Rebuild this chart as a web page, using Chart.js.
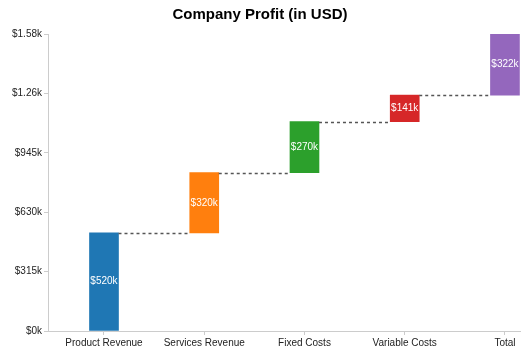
<!DOCTYPE html>
<html><head><meta charset="utf-8">
<script src="https://cdn.jsdelivr.net/npm/chart.js@4/dist/chart.umd.min.js"></script>
<style>html,body{margin:0;padding:0;background:#fff}#wrap{width:532px;height:355px}</style>
</head><body><div id="wrap"><canvas id="c" width="532" height="355"></canvas></div>
<script>
const categories = ["Product Revenue", "Services Revenue", "Fixed Costs", "Variable Costs", "Total"];
const amounts = [520, 320, 270, 141, 322];
const barLabels = ["$520k", "$320k", "$270k", "$141k", "$322k"];
const barColors = ["#1f77b4", "#ff7f0e", "#2ca02c", "#d62728", "#9467bd"];
const yTickValues = [0, 315, 630, 945, 1260, 1575];
const yTickLabels = ["$0k", "$315k", "$630k", "$945k", "$1.26k", "$1.58k"];

const FONT = "'Liberation Sans', Arial, sans-serif";
let run = 0;
const ranges = amounts.map(v => { const r = [run, run + v]; run += v; return r; });
const points = ranges.map((r, i) => ({x: i, y: r}));

const connectorPlugin = {
  id: 'connectors',
  afterDatasetsDraw(chart) {
    const ctx = chart.ctx;
    const meta = chart.getDatasetMeta(0);
    const ys = chart.scales.y;
    ctx.save();
    ctx.strokeStyle = '#555';
    ctx.lineWidth = 1.5;
    ctx.setLineDash([3, 3]);
    for (let i = 0; i < meta.data.length - 1; i++) {
      const a = meta.data[i], b = meta.data[i + 1];
      const y = Math.round(ys.getPixelForValue(ranges[i][1])) + 0.5;
      ctx.beginPath();
      ctx.moveTo(a.x + a.width / 2, y);
      ctx.lineTo(b.x - b.width / 2, y);
      ctx.stroke();
    }
    ctx.setLineDash([]);
    ctx.fillStyle = '#fff';
    ctx.font = '10px ' + FONT;
    ctx.textAlign = 'center';
    ctx.textBaseline = 'middle';
    meta.data.forEach((el, i) => {
      const yc = (el.y + el.base) / 2;
      ctx.fillText(barLabels[i], el.x, yc);
    });
    ctx.restore();
  }
};

new Chart(document.getElementById('c'), {
  type: 'bar',
  data: {
    datasets: [{
      data: points,
      backgroundColor: barColors,
      borderWidth: 0,
      barThickness: 29,
      borderSkipped: false
    }]
  },
  options: {
    responsive: false,
    animation: false,
    devicePixelRatio: 1,
    parsing: {xAxisKey: 'x', yAxisKey: 'y'},
    layout: {padding: {left: 0, right: 12, top: 0, bottom: 0}},
    plugins: {
      legend: {display: false},
      tooltip: {enabled: false},
      title: {
        display: true,
        text: 'Company Profit (in USD)',
        color: '#000',
        font: {family: FONT, size: 15, weight: 'bold'},
        padding: {top: 6, bottom: 10}
      }
    },
    scales: {
      x: {
        type: 'linear',
        offset: false,
        min: -0.5586,
        max: 4.15,
        afterBuildTicks: s => { s.ticks = categories.map((c, i) => ({value: i})); },
        afterFit: s => { s.height = 24; },
        grid: {display: true, offset: false, drawOnChartArea: false, drawTicks: true, tickLength: 4, color: '#ccc'},
        border: {display: true, color: '#ccc', width: 1},
        ticks: {
          callback: (v) => categories[v],
          color: '#222',
          font: {family: FONT, size: 10},
          padding: 2,
          maxRotation: 0,
          autoSkip: false
        }
      },
      y: {
        type: 'linear',
        min: 0,
        max: 1575,
        afterBuildTicks: s => { s.ticks = yTickValues.map(v => ({value: v})); },
        afterFit: s => { s.width = 48; },
        grid: {display: true, offset: false, drawOnChartArea: false, drawTicks: true, tickLength: 4, color: '#ccc'},
        border: {display: true, color: '#ccc', width: 1},
        ticks: {
          callback: (v) => yTickLabels[yTickValues.indexOf(v)],
          color: '#222',
          font: {family: FONT, size: 10},
          padding: 2
        }
      }
    }
  },
  plugins: [connectorPlugin]
});
</script></body></html>
